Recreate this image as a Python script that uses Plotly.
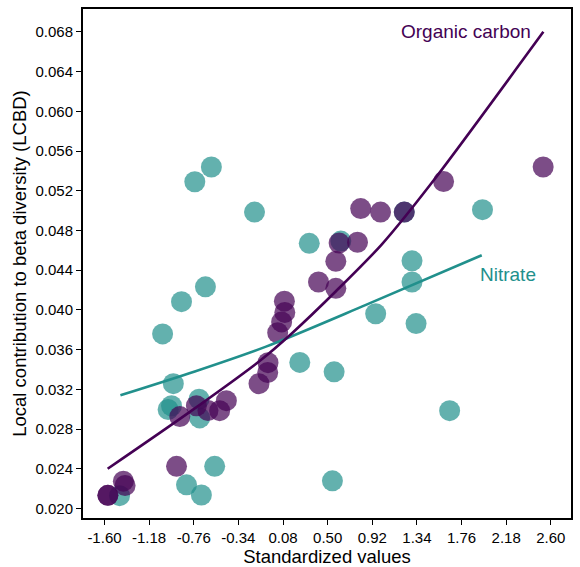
import plotly.graph_objects as go

# Organic carbon (purple) observations
oc_x = [-1.568, -1.568, -1.422, -1.406, -0.922, -0.891, -0.735, -0.626, -0.516, -0.453,
        -0.146, -0.064, -0.061, 0.030, 0.067, 0.097, 0.093, 0.414, 0.577, 0.577,
        0.608, 0.781, 0.811, 0.998, 1.221, 1.591, 2.528]
oc_y = [0.02132, 0.02132, 0.02275, 0.02231, 0.02424, 0.02925, 0.03034, 0.02987, 0.02985, 0.03086,
        0.03257, 0.03369, 0.03468, 0.03770, 0.03879, 0.03974, 0.04088, 0.04281, 0.04217, 0.04489,
        0.04673, 0.04681, 0.05020, 0.04985, 0.04985, 0.05293, 0.05439]

# Nitrate (teal) observations
ni_x = [-1.458, -1.053, -0.952, -0.969, -1.001, -0.875, -0.828, -0.750, -0.710, -0.704,
        -0.688, -0.650, -0.594, -0.563, -0.188, 0.238, 0.327, 0.561, 0.545, 0.624,
        0.952, 1.221, 1.294, 1.294, 1.332, 1.648, 1.957]
ni_y = [0.02129, 0.03758, 0.03257, 0.03034, 0.02997, 0.04083, 0.02238, 0.05290, 0.03101, 0.02912,
        0.02136, 0.04232, 0.05439, 0.02424, 0.04985, 0.03471, 0.04670, 0.03376, 0.02278, 0.04693,
        0.03961, 0.04985, 0.04494, 0.04281, 0.03862, 0.02985, 0.05009]

# Fitted curves
oc_fit_x = [-1.57, -0.80, -0.14, 0.17, 0.58, 1.01, 1.48, 2.53]
oc_fit_y = [0.0240, 0.0297, 0.03485, 0.0377, 0.0419, 0.0466, 0.0528, 0.0680]
ni_fit_x = [-1.45, -0.75, -0.08, 0.86, 1.95]
ni_fit_y = [0.0314, 0.0338, 0.0363, 0.0405, 0.0455]

x_ticks = [-1.60, -1.18, -0.76, -0.34, 0.08, 0.50, 0.92, 1.34, 1.76, 2.18, 2.60]
y_ticks = [0.020, 0.024, 0.028, 0.032, 0.036, 0.040, 0.044, 0.048, 0.052, 0.056, 0.060, 0.064, 0.068]

PURPLE = "#440154"
TEAL = "#21908C"
FONT = "Liberation Sans, Arial, sans-serif"

fig = go.Figure()
fig.add_trace(go.Scatter(x=ni_x, y=ni_y, mode="markers",
                         marker=dict(size=21, color=TEAL, opacity=0.7, line=dict(width=0)),
                         showlegend=False))
fig.add_trace(go.Scatter(x=oc_x, y=oc_y, mode="markers",
                         marker=dict(size=21, color=PURPLE, opacity=0.7, line=dict(width=0)),
                         showlegend=False))
fig.add_trace(go.Scatter(x=ni_fit_x, y=ni_fit_y, mode="lines",
                         line=dict(color=TEAL, width=2.6, shape="spline", smoothing=0.8),
                         showlegend=False))
fig.add_trace(go.Scatter(x=oc_fit_x, y=oc_fit_y, mode="lines",
                         line=dict(color=PURPLE, width=2.6, shape="spline", smoothing=0.8),
                         showlegend=False))

fig.add_annotation(x=1.80, y=0.0680, xref="x", yref="y", text="Organic carbon", showarrow=False,
                   font=dict(family=FONT, size=19, color=PURPLE))
fig.add_annotation(x=2.20, y=0.0436, xref="x", yref="y", text="Nitrate", showarrow=False,
                   font=dict(family=FONT, size=19, color=TEAL))

fig.update_layout(
    width=580, height=567,
    margin=dict(l=83, r=7, t=9, b=41),
    plot_bgcolor="white", paper_bgcolor="white",
    font=dict(family=FONT, size=15, color="black"),
)
fig.update_xaxes(range=[-1.802, 2.79], tickvals=x_ticks, ticktext=[f"{v:.2f}" for v in x_ticks],
                 showgrid=False, zeroline=False, showline=True, linecolor="black", linewidth=2,
                 mirror=True, ticks="outside", ticklen=5, tickcolor="black", tickwidth=1,
                 title=dict(text="Standardized values", font=dict(size=18.5), standoff=1),
                 tickfont=dict(size=15))
fig.update_yaxes(range=[0.01904, 0.0703], tickvals=y_ticks, ticktext=[f"{v:.3f}" for v in y_ticks],
                 showgrid=False, zeroline=False, showline=True, linecolor="black", linewidth=2,
                 mirror=True, ticks="outside", ticklen=5, tickcolor="black", tickwidth=1,
                 title=dict(text="Local contribution to beta diversity (LCBD)", font=dict(size=18.5), standoff=4),
                 tickfont=dict(size=15))

fig.write_html("out.html")
